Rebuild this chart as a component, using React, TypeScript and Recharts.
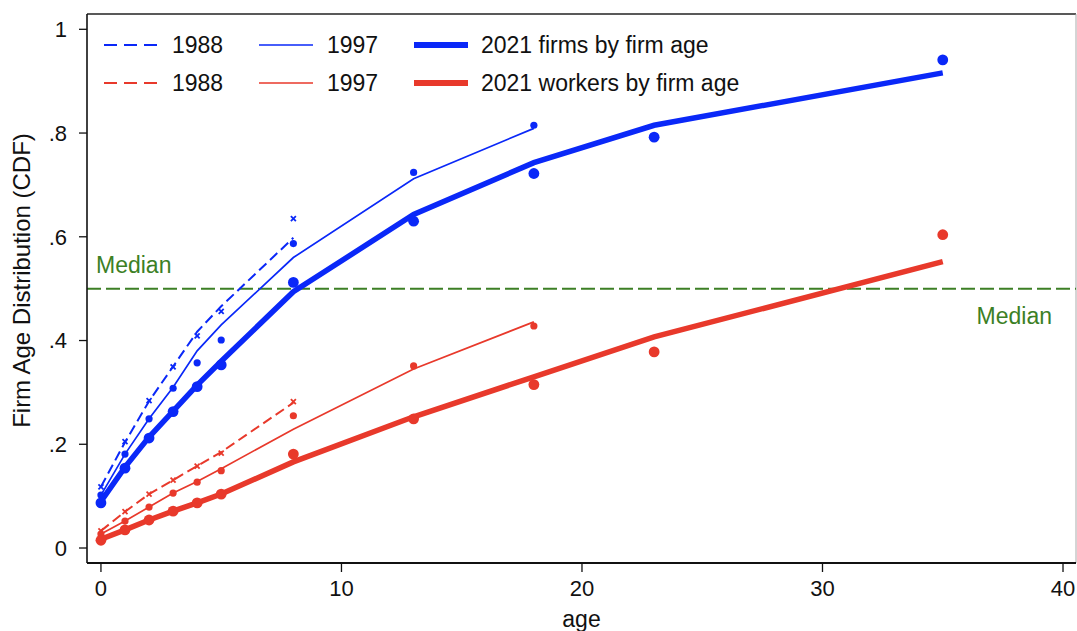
import React from 'react';
import { ComposedChart, Line, Scatter, XAxis, YAxis, ReferenceLine, Legend } from 'recharts';

// Palette and typography
const BLUE = '#0a28f8';
const RED = '#e8392b';
const GREEN = '#3c7f25';
const FONT = '"Liberation Sans", Arial, Helvetica, sans-serif';

// Firm ages observed in each survey year
const ages1988 = [0, 1, 2, 3, 4, 5, 8];
const ages1997 = [0, 1, 2, 3, 4, 5, 8, 13, 18];
const ages2021 = [0, 1, 2, 3, 4, 5, 8, 13, 18, 23, 35];

// Cumulative share of firms by firm age (markers = observed, lines = fitted)
const firms1988Points = [0.118, 0.205, 0.284, 0.349, 0.409, 0.456, 0.635];
const firms1988Fit = [0.118, 0.204, 0.283, 0.35, 0.417, 0.466, 0.598];
const firms1997Points = [0.102, 0.181, 0.249, 0.308, 0.357, 0.401, 0.587, 0.724, 0.815];
const firms1997Fit = [0.102, 0.181, 0.249, 0.31, 0.38, 0.43, 0.56, 0.712, 0.809];
const firms2021Points = [0.087, 0.154, 0.212, 0.263, 0.311, 0.353, 0.512, 0.63, 0.722, 0.792, 0.941];
const firms2021Fit = [0.09, 0.156, 0.214, 0.264, 0.314, 0.36, 0.494, 0.643, 0.743, 0.815, 0.916];

// Cumulative share of workers by firm age
const workers1988Points = [0.033, 0.07, 0.104, 0.131, 0.158, 0.183, 0.282];
const workers1988Fit = [0.033, 0.07, 0.104, 0.131, 0.158, 0.185, 0.28];
const workers1997Points = [0.027, 0.052, 0.079, 0.106, 0.127, 0.149, 0.255, 0.351, 0.428];
const workers1997Fit = [0.027, 0.052, 0.079, 0.106, 0.128, 0.153, 0.229, 0.345, 0.436];
const workers2021Points = [0.015, 0.035, 0.054, 0.071, 0.087, 0.104, 0.181, 0.249, 0.315, 0.378, 0.604];
const workers2021Fit = [0.017, 0.035, 0.054, 0.071, 0.087, 0.104, 0.166, 0.253, 0.33, 0.407, 0.552];

// Axes
const xTicks = [0, 10, 20, 30, 40];
const yTicks = [0, 0.2, 0.4, 0.6, 0.8, 1];
const X_DOMAIN: [number, number] = [-0.58, 40.54];
const Y_DOMAIN: [number, number] = [-0.0289, 1.0295];
const MEDIAN = 0.5;

// Legend entries, laid out in two rows of three
const legendItems = [
  { label: '1988', color: BLUE, width: 2, dash: '13 7', col: 0, row: 0 },
  { label: '1997', color: BLUE, width: 1.6, dash: undefined, col: 1, row: 0 },
  { label: '2021 firms by firm age', color: BLUE, width: 6, dash: undefined, col: 2, row: 0 },
  { label: '1988', color: RED, width: 2, dash: '13 7', col: 0, row: 1 },
  { label: '1997', color: RED, width: 1.6, dash: undefined, col: 1, row: 1 },
  { label: '2021 workers by firm age', color: RED, width: 6, dash: undefined, col: 2, row: 1 },
];

const rows = (ages: number[], values: number[]) => ages.map((age, i) => ({ age, v: values[i] }));

const bigDot = (color: string) => (p: any) =>
  p.cx == null || p.cy == null ? null : <circle cx={p.cx} cy={p.cy} r={5.4} fill={color} />;
const smallDot = (color: string) => (p: any) =>
  p.cx == null || p.cy == null ? null : <circle cx={p.cx} cy={p.cy} r={3.6} fill={color} />;
const cross = (color: string) => (p: any) =>
  p.cx == null || p.cy == null ? null : (
    <g stroke={color} strokeWidth={1.8}>
      <line x1={p.cx - 2.5} y1={p.cy - 2.5} x2={p.cx + 2.5} y2={p.cy + 2.5} />
      <line x1={p.cx - 2.5} y1={p.cy + 2.5} x2={p.cx + 2.5} y2={p.cy - 2.5} />
    </g>
  );

const yFmt = (v: number) => (v === 0 ? '0' : v === 1 ? '1' : String(+v.toFixed(1)).replace(/^0/, ''));

const sampleLeft = [9, 164, 319];
const textLeft = [77, 232, 386];
const rowCenter = [21, 59];

const LegendBox = () => (
  <div style={{ position: 'relative', width: 700, height: 80, fontFamily: FONT }}>
    {legendItems.map((it, i) => (
      <React.Fragment key={i}>
        <svg
          width={56}
          height={10}
          style={{ position: 'absolute', left: sampleLeft[it.col], top: rowCenter[it.row] - 5 }}
        >
          <line x1={0} y1={5} x2={54} y2={5} stroke={it.color} strokeWidth={it.width} strokeDasharray={it.dash} />
        </svg>
        <div
          style={{
            position: 'absolute',
            left: textLeft[it.col],
            top: rowCenter[it.row] - 15,
            height: 30,
            lineHeight: '30px',
            fontSize: 23,
            color: '#111',
            whiteSpace: 'nowrap',
          }}
        >
          {it.label}
        </div>
      </React.Fragment>
    ))}
  </div>
);

const MedianLabels = (props: any) => {
  const vb = props.viewBox || {};
  const x = vb.x ?? 0;
  const y = vb.y ?? 0;
  const w = vb.width ?? 0;
  return (
    <g fontFamily={FONT} fontSize={23} fill={GREEN}>
      <text x={x + 9} y={y - 16}>Median</text>
      <text x={x + w - 24} y={y + 35} textAnchor="end">Median</text>
    </g>
  );
};

const YTitle = (props: any) => {
  const vb = props.viewBox || {};
  const cx = 30;
  const cy = (vb.y ?? 14) + (vb.height ?? 549) / 2 - 8;
  return (
    <text
      x={cx}
      y={cy}
      transform={`rotate(-90, ${cx}, ${cy})`}
      textAnchor="middle"
      fontFamily={FONT}
      fontSize={24}
      fill="#111"
    >
      Firm Age Distribution (CDF)
    </text>
  );
};

const XTitle = (props: any) => {
  const vb = props.viewBox || {};
  const cx = (vb.x ?? 87) + (vb.width ?? 989) / 2;
  return (
    <text x={cx} y={627} textAnchor="middle" fontFamily={FONT} fontSize={23} fill="#111">
      age
    </text>
  );
};

export default function App() {
  const tickStyle = { fontFamily: FONT, fontSize: 22, fill: '#111' };
  return (
    <div style={{ position: 'absolute', left: 0, top: 0, background: '#fff' }}>
      <ComposedChart width={1077} height={631} margin={{ top: 14, right: 1, bottom: 0, left: 27 }}>
        <XAxis
          type="number"
          dataKey="age"
          domain={X_DOMAIN}
          ticks={xTicks}
          allowDataOverflow
          height={68}
          tickSize={9}
          tickMargin={8}
          tick={tickStyle}
          axisLine={{ stroke: '#111', strokeWidth: 2 }}
          tickLine={{ stroke: '#111', strokeWidth: 1.3 }}
          label={<XTitle />}
        />
        <YAxis
          type="number"
          domain={Y_DOMAIN}
          ticks={yTicks}
          allowDataOverflow
          width={60}
          tickSize={8}
          tickMargin={12}
          tick={tickStyle}
          tickFormatter={yFmt}
          axisLine={{ stroke: '#111', strokeWidth: 1.6 }}
          tickLine={{ stroke: '#111', strokeWidth: 1.3 }}
          label={<YTitle />}
        />
        <ReferenceLine y={Y_DOMAIN[1]} stroke="#222" strokeWidth={1.6} />
        <ReferenceLine x={X_DOMAIN[1]} stroke="#aaa" strokeWidth={1} />
        <ReferenceLine
          y={MEDIAN}
          stroke={GREEN}
          strokeWidth={2}
          strokeDasharray="14 5"
          label={<MedianLabels />}
        />

        <Line data={rows(ages1988, firms1988Fit)} dataKey="v" type="linear" stroke={BLUE} strokeWidth={2} strokeDasharray="10 5" dot={false} activeDot={false} isAnimationActive={false} />
        <Line data={rows(ages1997, firms1997Fit)} dataKey="v" type="linear" stroke={BLUE} strokeWidth={1.7} dot={false} activeDot={false} isAnimationActive={false} />
        <Line data={rows(ages2021, firms2021Fit)} dataKey="v" type="linear" stroke={BLUE} strokeWidth={5.5} dot={false} activeDot={false} isAnimationActive={false} />
        <Line data={rows(ages1988, workers1988Fit)} dataKey="v" type="linear" stroke={RED} strokeWidth={2} strokeDasharray="10 5" dot={false} activeDot={false} isAnimationActive={false} />
        <Line data={rows(ages1997, workers1997Fit)} dataKey="v" type="linear" stroke={RED} strokeWidth={1.7} dot={false} activeDot={false} isAnimationActive={false} />
        <Line data={rows(ages2021, workers2021Fit)} dataKey="v" type="linear" stroke={RED} strokeWidth={5.5} dot={false} activeDot={false} isAnimationActive={false} />

        <Scatter data={rows(ages1988, firms1988Points)} dataKey="v" shape={cross(BLUE)} isAnimationActive={false} />
        <Scatter data={rows(ages1997, firms1997Points)} dataKey="v" shape={smallDot(BLUE)} isAnimationActive={false} />
        <Scatter data={rows(ages2021, firms2021Points)} dataKey="v" shape={bigDot(BLUE)} isAnimationActive={false} />
        <Scatter data={rows(ages1988, workers1988Points)} dataKey="v" shape={cross(RED)} isAnimationActive={false} />
        <Scatter data={rows(ages1997, workers1997Points)} dataKey="v" shape={smallDot(RED)} isAnimationActive={false} />
        <Scatter data={rows(ages2021, workers2021Points)} dataKey="v" shape={bigDot(RED)} isAnimationActive={false} />

        <Legend
          layout="horizontal"
          verticalAlign="middle"
          align="center"
          content={() => <LegendBox />}
          wrapperStyle={{ left: 95, top: 24, width: 700, height: 80 }}
        />
      </ComposedChart>
    </div>
  );
}
